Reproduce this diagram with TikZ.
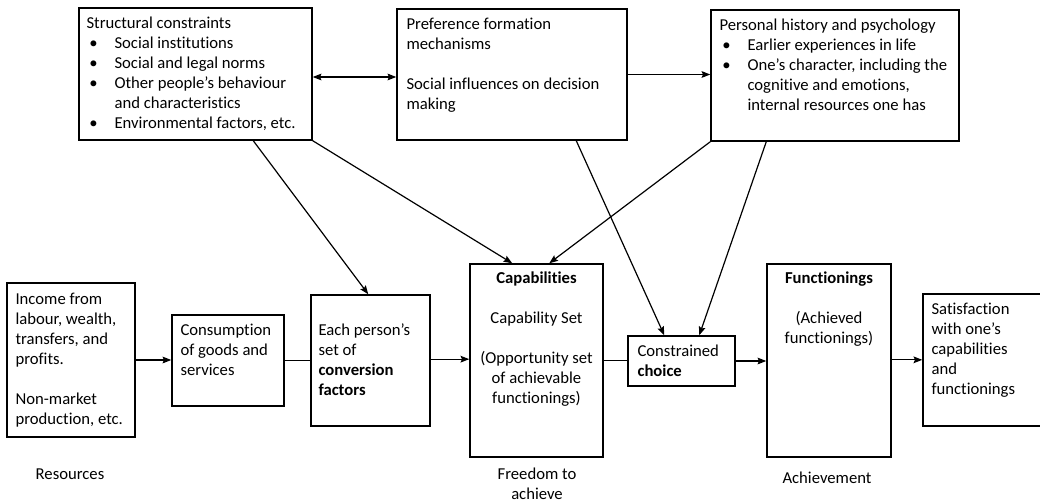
\documentclass[tikz,border=0pt]{standalone}
\usepackage{fontspec}
\setmainfont{Carlito}[Ligatures=NoCommon]
\usetikzlibrary{arrows.meta,calc,fit}
\newcommand{\blt}{\makebox[21pt][l]{\hspace{2.2pt}•}}
\newcommand{\cnt}{\hspace*{21pt}}
\begin{document}
\begin{tikzpicture}[x=0.75pt,y=-0.75pt,
  box/.style={draw,line width=1.1pt,inner sep=0pt},
  txt/.style={inner sep=0pt,align=left,font=\fontsize{12.5}{15}\selectfont},
  ctxt/.style={inner sep=0pt,align=center,font=\fontsize{12.5}{15}\selectfont},
  conn/.style={line width=0.9pt},
  arr/.style={conn,-{Stealth[length=6.5pt,width=5pt,inset=1pt]}},
  darr/.style={conn,{Stealth[length=6.5pt,width=5pt,inset=1pt]}-{Stealth[length=6.5pt,width=5pt,inset=1pt]}}]
\path[use as bounding box] (0,0) rectangle (1040,503);
% top row
\node[box,fit={(79,8) (312,140)}] (sc) {};
\node[box,fit={(397,9) (627,140)}] (pf) {};
\node[box,fit={(711,10) (959,141)}] (ph) {};
% bottom row
\node[box,fit={(7,283) (135,437)}] (inc) {};
\node[box,fit={(172,315) (284,406)}] (con) {};
\node[box,fit={(311,295) (430,426)}] (conv) {};
\node[box,fit={(470,264) (603,457)}] (cap) {};
\node[box,fit={(628,336) (735,386)}] (cho) {};
\node[box,fit={(767,264) (891,457)}] (fun) {};
\begin{scope}
\clip (0,0) rectangle (1040,503);
\node[box,fit={(923,294) (1048,426)}] (sat) {};
\end{scope}
% texts
\node[txt,anchor=north west] (sct) at ($(sc.north west)+(8,9)$)
 {Structural constraints\\
  \blt Social institutions\\
  \blt Social and legal norms\\
  \blt Other people’s behaviour\\
  \cnt and characteristics\\
  \blt Environmental factors, etc.};
\node[txt,anchor=north west] (pft) at ($(pf.north west)+(10,10)$)
 {Preference formation\\
  mechanisms\\[15pt]
  Social influences on decision\\
  making};
\node[txt,anchor=north west] (pht) at ($(ph.north west)+(9,9)$)
 {Personal history and psychology\\
  \blt Earlier experiences in life\\
  \blt One’s character, including the\\
  \cnt cognitive and emotions,\\
  \cnt internal resources one has};
\node[txt,anchor=north west] (inct) at ($(inc.north west)+(9,11)$)
 {Income from\\ labour, wealth,\\ transfers, and\\ profits.\\[15pt]
  Non-market\\ production, etc.};
\node[txt,anchor=north west] (cont) at ($(con.north west)+(9,9)$)
 {Consumption\\ of goods and\\ services};
\node[txt,anchor=north west] (convt) at ($(conv.north west)+(8,29)$)
 {Each person’s\\ set of\\ \textbf{conversion}\\ \textbf{factors}};
\node[ctxt,anchor=north] (capt) at ($(cap.north)+(0,8)$)
 {\textbf{Capabilities}\\[15pt]
  Capability Set\\[15pt]
  (Opportunity set\\ of achievable\\ functionings)};
\node[txt,anchor=north west] (chot) at ($(cho.north west)+(10,9)$)
 {Constrained\\ \textbf{choice}};
\node[ctxt,anchor=north] (funt) at ($(fun.north)+(0,8)$)
 {\textbf{Functionings}\\[15pt]
  (Achieved\\ functionings)};
\node[txt,anchor=north west] (satt) at ($(sat.north west)+(9,9)$)
 {Satisfaction\\ with one’s\\ capabilities\\ and\\ functionings};
% labels
\node[ctxt] (res) at (70,474) {Resources};
\node[ctxt] (free) at (537,484) {Freedom to\\ achieve};
\node[ctxt] (ach) at (827,478) {Achievement};
% connectors top
\draw[darr] ([yshift=-2.25pt]sc.east) -- ([yshift=-2.25pt]sc.east -| pf.west);
\draw[arr] (pf.east) -- (pf.east -| ph.west);
% connectors bottom
\draw[arr] (inc.east) -- (inc.east -| con.west);
\draw[conn] (con.east) -- (con.east -| conv.west);
\draw[arr] ([yshift=1pt]conv.east) -- ([yshift=1pt]conv.east -| cap.west);
\draw[conn] (cap.east) -- (cap.east -| cho.west);
\draw[arr] (cho.east) -- (cho.east -| fun.west);
\draw[arr] ([yshift=0.5pt]fun.east) -- ([yshift=0.5pt]fun.east -| sat.west);
% diagonals
\draw[arr] ($(sc.south west)+(175,0)$) -- ($(conv.north west)+(58,0)$);
\draw[arr] (sc.south east) -- ($(cap.north west)+(43,0)$);
\draw[arr] ($(pf.south west)+(180,0)$) -- ($(cho.north west)+(37,0)$);
\draw[arr] (ph.south west) -- ($(cap.north west)+(80,0)$);
\draw[arr] ($(ph.south west)+(56,0)$) -- ($(cho.north west)+(72,0)$);
\end{tikzpicture}
\end{document}
